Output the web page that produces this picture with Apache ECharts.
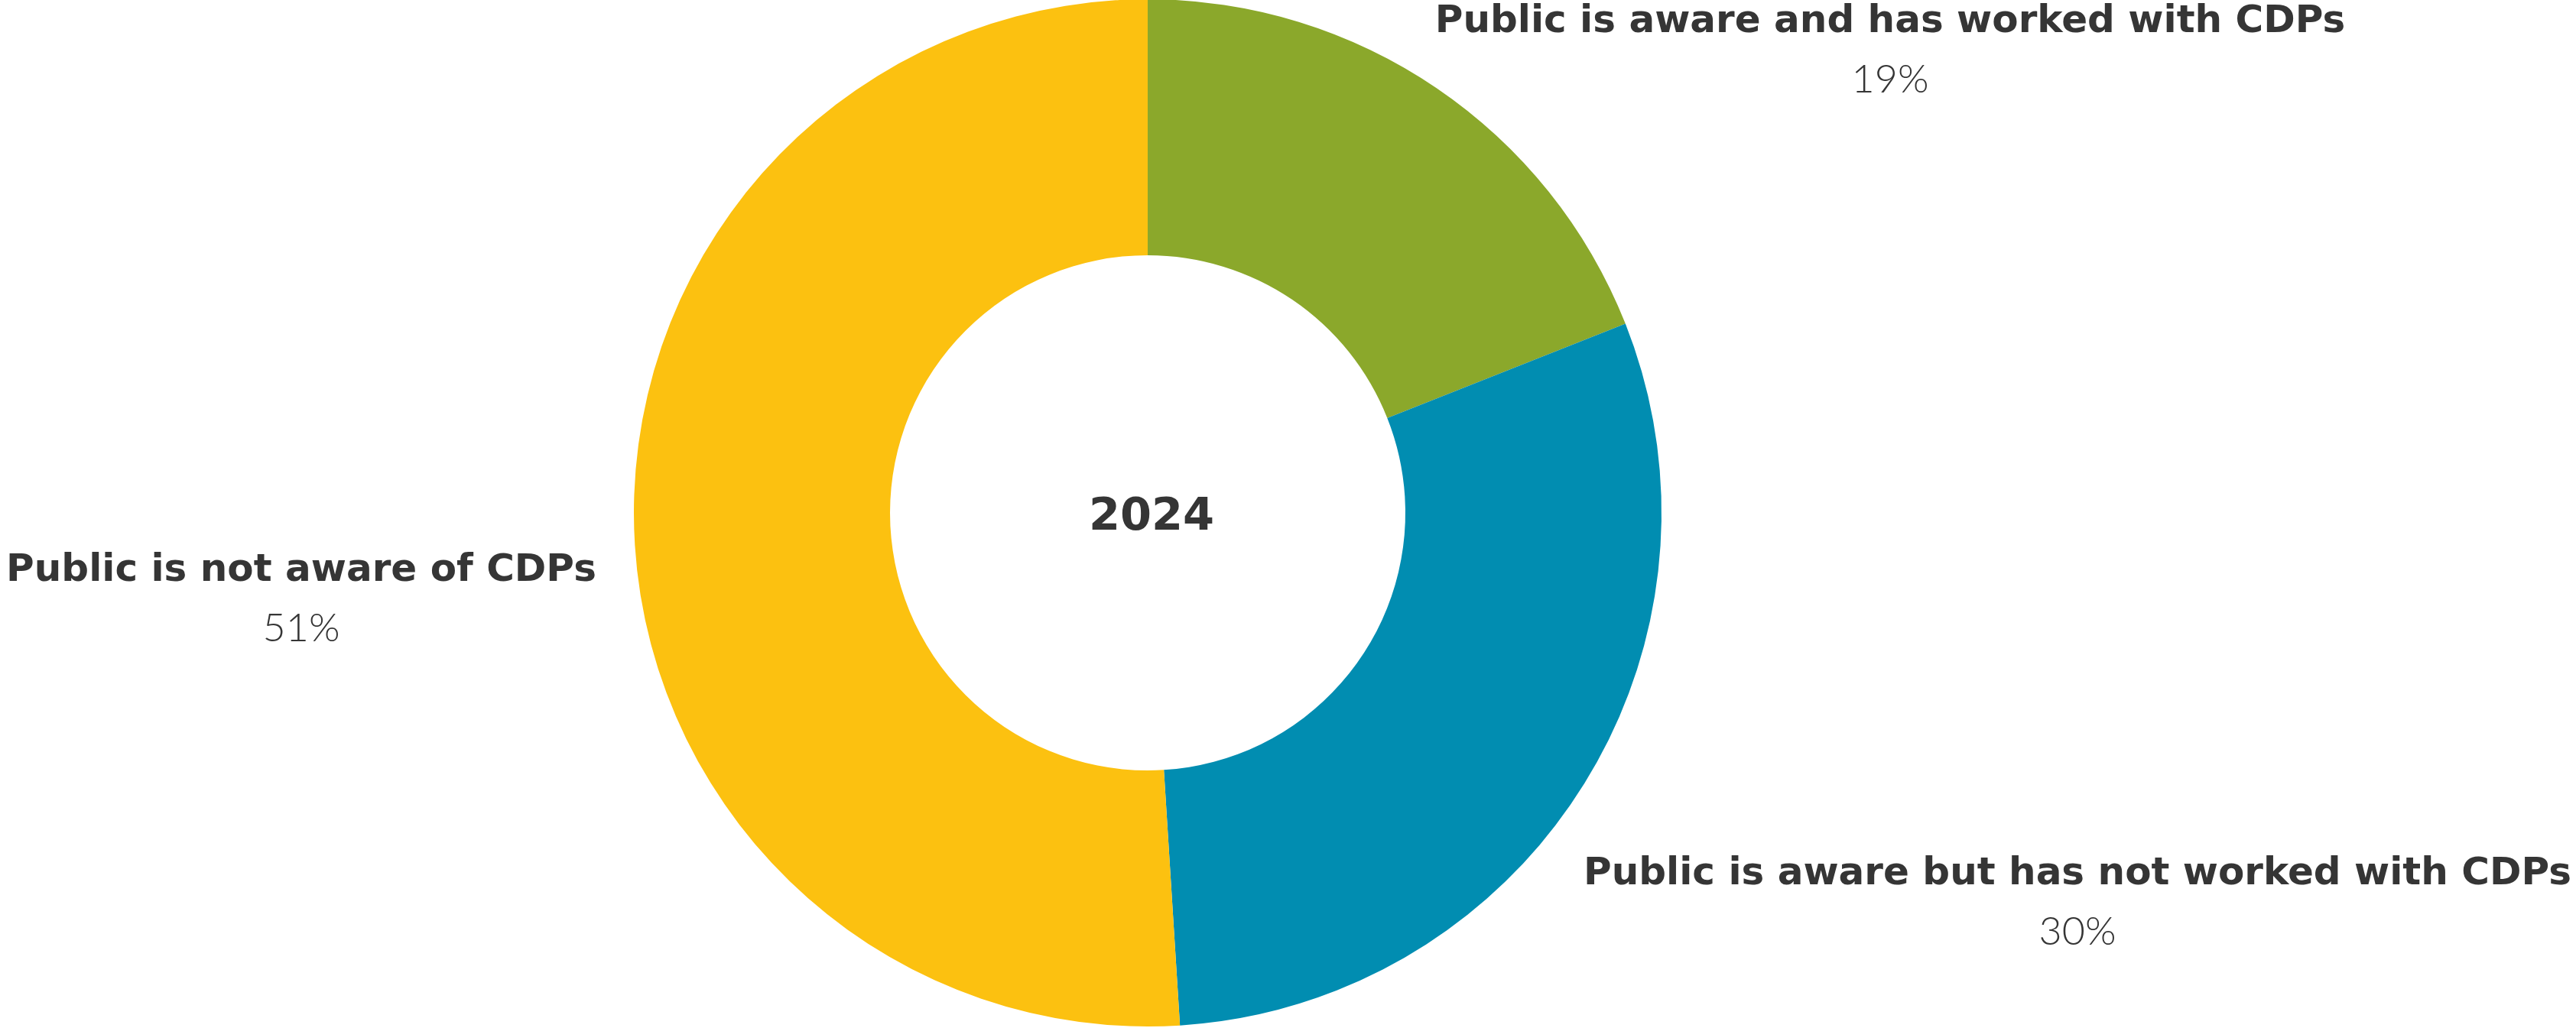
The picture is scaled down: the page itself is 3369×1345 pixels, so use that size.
<!DOCTYPE html>
<html>
<head>
<meta charset="utf-8">
<style>
  html, body { margin: 0; padding: 0; background: #ffffff; }
  #chart { width: 3369px; height: 1345px; }
</style>
<script src="https://cdn.jsdelivr.net/npm/echarts@6/dist/echarts.min.js"></script>
</head>
<body>
<div id="chart"></div>
<script>
// Survey categories and their shares (%)
const categories = [
  'Public is aware and has worked with CDPs',
  'Public is aware but has not worked with CDPs',
  'Public is not aware of CDPs'
];
const shares = [19, 30, 51];
const sliceColors = ['#8ba82b', '#018db1', '#fcc110'];
const centerTitle = '2024';

// Where each two-line label block sits (centre of the block, px)
const labelAnchors = [
  { x: 2472, y: 67 },
  { x: 2717, y: 1182 },
  { x: 394, y: 785 }
];

const textColor = '#353535';
const boldFont = '"DejaVu Sans", Inter, "Noto Sans", sans-serif';
const lightFont = 'Lato, "Open Sans", "Noto Sans", sans-serif';

const chart = echarts.init(document.getElementById('chart'), null, { renderer: 'canvas' });

chart.setOption({
  animation: false,
  backgroundColor: '#ffffff',
  title: {
    text: centerTitle,
    left: 1501,
    top: 673,
    textAlign: 'center',
    textVerticalAlign: 'middle',
    textStyle: {
      color: textColor,
      fontFamily: boldFont,
      fontWeight: 'bold',
      fontSize: 59
    }
  },
  series: [{
    type: 'pie',
    center: [1501, 671],
    radius: [337, 672],
    startAngle: 90,
    clockwise: true,
    avoidLabelOverlap: false,
    itemStyle: { borderWidth: 0 },
    labelLine: { show: false },
    label: {
      show: true,
      position: 'outside',
      formatter: p => '{name|' + p.name + '}\n{pct|' + p.value + '%}',
      rich: {
        name: {
          color: textColor,
          fontFamily: boldFont,
          fontWeight: 'bold',
          fontSize: 50,
          lineHeight: 75,
          align: 'center'
        },
        pct: {
          color: textColor,
          fontFamily: lightFont,
          fontWeight: 300,
          fontSize: 52,
          lineHeight: 75,
          align: 'center'
        }
      }
    },
    labelLayout: params => {
      const a = labelAnchors[params.dataIndex];
      return { x: a.x, y: a.y, align: 'center', verticalAlign: 'middle' };
    },
    data: categories.map((name, i) => ({
      name: name,
      value: shares[i],
      itemStyle: { color: sliceColors[i] }
    }))
  }]
});
</script>
</body>
</html>
